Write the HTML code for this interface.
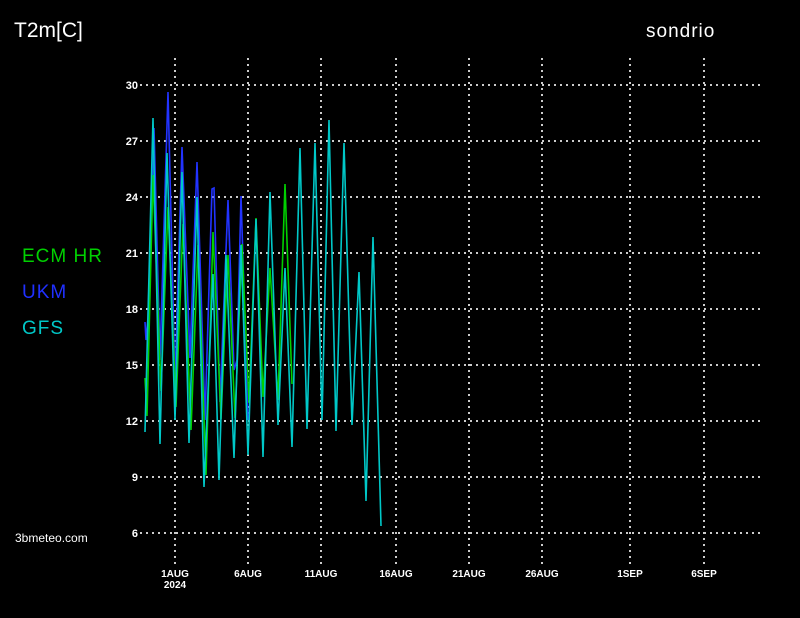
<!DOCTYPE html>
<html><head><meta charset="utf-8"><style>
html,body{margin:0;padding:0;background:#000;}
svg{display:block}
text{font-family:"Liberation Sans",sans-serif;}
</style></head><body>
<svg width="800" height="618" viewBox="0 0 800 618" xmlns="http://www.w3.org/2000/svg">
<rect width="800" height="618" fill="#000"/>
<g stroke="#ccc" stroke-width="2" stroke-dasharray="2,4">
<line x1="140" y1="85" x2="762" y2="85"/>
<line x1="140" y1="141" x2="762" y2="141"/>
<line x1="140" y1="197" x2="762" y2="197"/>
<line x1="140" y1="253" x2="762" y2="253"/>
<line x1="140" y1="309" x2="762" y2="309"/>
<line x1="140" y1="365" x2="762" y2="365"/>
<line x1="140" y1="421" x2="762" y2="421"/>
<line x1="140" y1="477" x2="762" y2="477"/>
<line x1="140" y1="533" x2="762" y2="533"/>
<line x1="175" y1="58" x2="175" y2="565"/>
<line x1="248" y1="58" x2="248" y2="565"/>
<line x1="321" y1="58" x2="321" y2="565"/>
<line x1="396" y1="58" x2="396" y2="565"/>
<line x1="469" y1="58" x2="469" y2="565"/>
<line x1="542" y1="58" x2="542" y2="565"/>
<line x1="630" y1="58" x2="630" y2="565"/>
<line x1="704" y1="58" x2="704" y2="565"/>
</g>
<g fill="#fff" font-size="11" font-weight="bold" text-anchor="end">
<text x="138" y="89">30</text><text x="138" y="145">27</text><text x="138" y="201">24</text>
<text x="138" y="257">21</text><text x="138" y="313">18</text><text x="138" y="369">15</text>
<text x="138" y="425">12</text><text x="138" y="481">9</text><text x="138" y="537">6</text>
</g>
<g fill="#fff" font-size="10" font-weight="bold" text-anchor="middle">
<text x="175" y="577">1AUG</text><text x="175" y="588">2024</text>
<text x="248" y="577">6AUG</text><text x="321" y="577">11AUG</text>
<text x="396" y="577">16AUG</text><text x="469" y="577">21AUG</text>
<text x="542" y="577">26AUG</text><text x="630" y="577">1SEP</text><text x="704" y="577">6SEP</text>
</g>
<text x="14" y="37" fill="#fff" font-size="21">T2m[C]</text>
<text x="646" y="37" fill="#fff" font-size="19" letter-spacing="1">sondrio</text>
<text x="22" y="262" fill="#00d000" font-size="19" letter-spacing="1">ECM  HR</text>
<text x="22" y="298" fill="#2030ff" font-size="19" letter-spacing="1">UKM</text>
<text x="22" y="334" fill="#00c8c8" font-size="19" letter-spacing="1">GFS</text>
<text x="15" y="542" fill="#fff" font-size="12">3bmeteo.com</text>
<polyline fill="none" stroke="#2233ff" stroke-width="1.6" points="145,322 146,340 148,318 154,128 160,360 168,92 175,382 182,147 190,358 197,162 205,420 212,189 214,188 220,402 228,200 234,370 237,360 241,196 248,420"/>
<polyline fill="none" stroke="#00d000" stroke-width="1.6" points="145,378 147,416 153,175 161,391 168,207 176,407 183,224 191,430 198,245 206,475 213,232 221,419 228,255 235,418 242,244 249,403 256,218 263,397 270,268 278,400 285,184 292,384"/>
<polyline fill="none" stroke="#00c8c8" stroke-width="1.6" points="145,432 153,118 160,444 167,153 175,420 182,172 189,443 197,197 204,487 213,274 219,480 226,255 234,458 241,245 248,455 256,219 263,457 270,192 278,425 285,268 292,447 300,148 307,429 315,143 322,420 329,120 336,431 344,143 352,425 359,272 366,501 373,237 381,526"/>
</svg>
</body></html>
